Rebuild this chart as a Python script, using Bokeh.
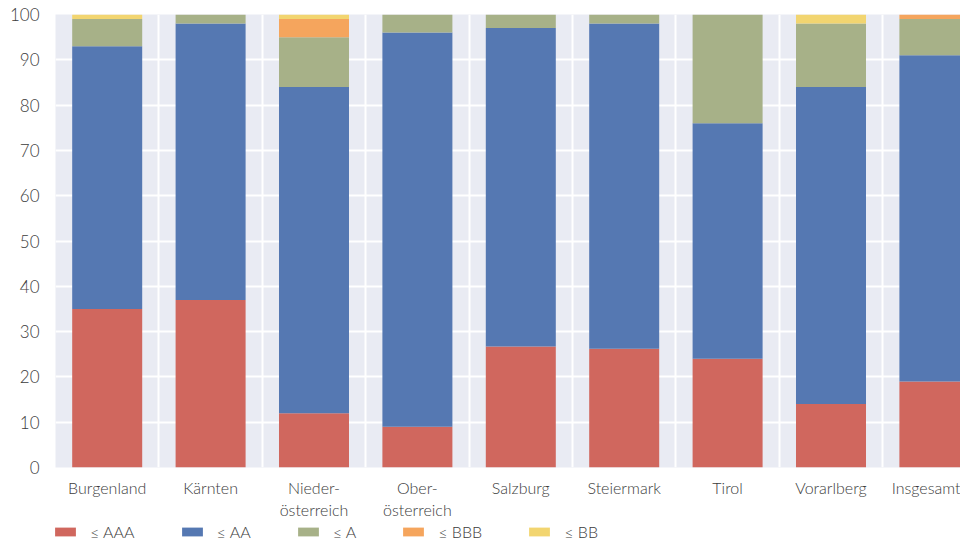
from bokeh.plotting import figure
from bokeh.models import ColumnDataSource, Range1d, FixedTicker
from bokeh.layouts import column
from bokeh.embed import file_html
from bokeh.resources import INLINE

categories = ["Burgenland", "Kärnten", "Nieder-\nösterreich", "Ober-\nösterreich",
              "Salzburg", "Steiermark", "Tirol", "Vorarlberg", "Insgesamt"]
series_names = ["≤ AAA", "≤ AA", "≤ A", "≤ BBB", "≤ BB"]
aaa = [35, 37, 12, 9, 26.7, 26.2, 24, 14, 19]
aa = [58, 61, 72, 87, 70.3, 71.8, 52, 70, 72]
a = [6, 2, 11, 4, 3, 2, 24, 14, 8]
bbb = [0, 0, 4, 0, 0, 0, 0, 0, 1]
bb = [1, 0, 1, 0, 0, 0, 0, 2, 0]
y_ticks = [0, 10, 20, 30, 40, 50, 60, 70, 80, 90, 100]

colors = ["#D0675E", "#5578B2", "#A7B188", "#F5A55D", "#F2D570"]
keys = ["aaa", "aa", "a", "bbb", "bb"]

pos = list(range(1, len(categories) + 1))
source = ColumnDataSource(dict(x=pos, aaa=aaa, aa=aa, a=a, bbb=bbb, bb=bb))

FONT = "Lato Light"
TXT = "#3c3c3c"

p = figure(width=960, height=522, output_backend="svg", toolbar_location=None,
           x_range=Range1d(0.5, 0.5 + 905 / 103.4), y_range=Range1d(0, 100),
           min_border_left=55, min_border_right=0, min_border_top=14, min_border_bottom=54)
p.background_fill_color = "#E9EBF3"
p.outline_line_color = None

p.vbar_stack(keys, x="x", width=0.677, source=source, color=colors, line_color=None)

# axes
p.xaxis.ticker = FixedTicker(ticks=pos)
p.xaxis.major_label_overrides = {i: c for i, c in zip(pos, categories)}
p.yaxis.ticker = FixedTicker(ticks=y_ticks)
for ax in (p.xaxis[0], p.yaxis[0]):
    ax.axis_line_color = None
    ax.major_tick_line_color = None
    ax.minor_tick_line_color = None
    ax.major_tick_out = 0
    ax.major_tick_in = 0
    ax.major_label_text_font = FONT
    ax.major_label_text_color = TXT
p.xaxis.major_label_text_font_size = "16px"
p.yaxis.major_label_text_font_size = "17px"
p.xaxis.major_label_standoff = 10
p.yaxis.major_label_standoff = 16

# grids
p.xgrid.ticker = FixedTicker(ticks=[i + 0.5 for i in range(len(categories) + 1)])
p.xgrid.grid_line_color = "white"
p.xgrid.grid_line_width = 2
p.ygrid.grid_line_color = "white"
p.ygrid.grid_line_width = 2

# legend strip (separate figure so it is not clipped by the main frame)
pl = figure(width=960, height=19, output_backend="svg", toolbar_location=None,
            x_range=Range1d(0, 1), y_range=Range1d(0, 1),
            x_axis_location=None, y_axis_location=None, min_border=0)
pl.outline_line_color = None
pl.grid.visible = False
for name, c in zip(series_names, colors):
    # dummy point outside the visible range; only its legend swatch is shown
    pl.vbar(x=[5], top=[5], bottom=[4], width=0.1, color=c, line_color=None,
            legend_label=name)
lg = pl.legend[0]
lg.orientation = "horizontal"
lg.location = (-3, 0)
lg.padding = 0
lg.margin = 0
lg.spacing = 44
lg.glyph_width = 26
lg.glyph_height = 11
lg.label_standoff = 12
lg.label_text_font = FONT
lg.label_text_font_size = "16px"
lg.label_text_color = TXT
lg.background_fill_alpha = 0
lg.border_line_alpha = 0

layout = column(p, pl, spacing=0)
open("out.html", "w").write(file_html(layout, INLINE))
